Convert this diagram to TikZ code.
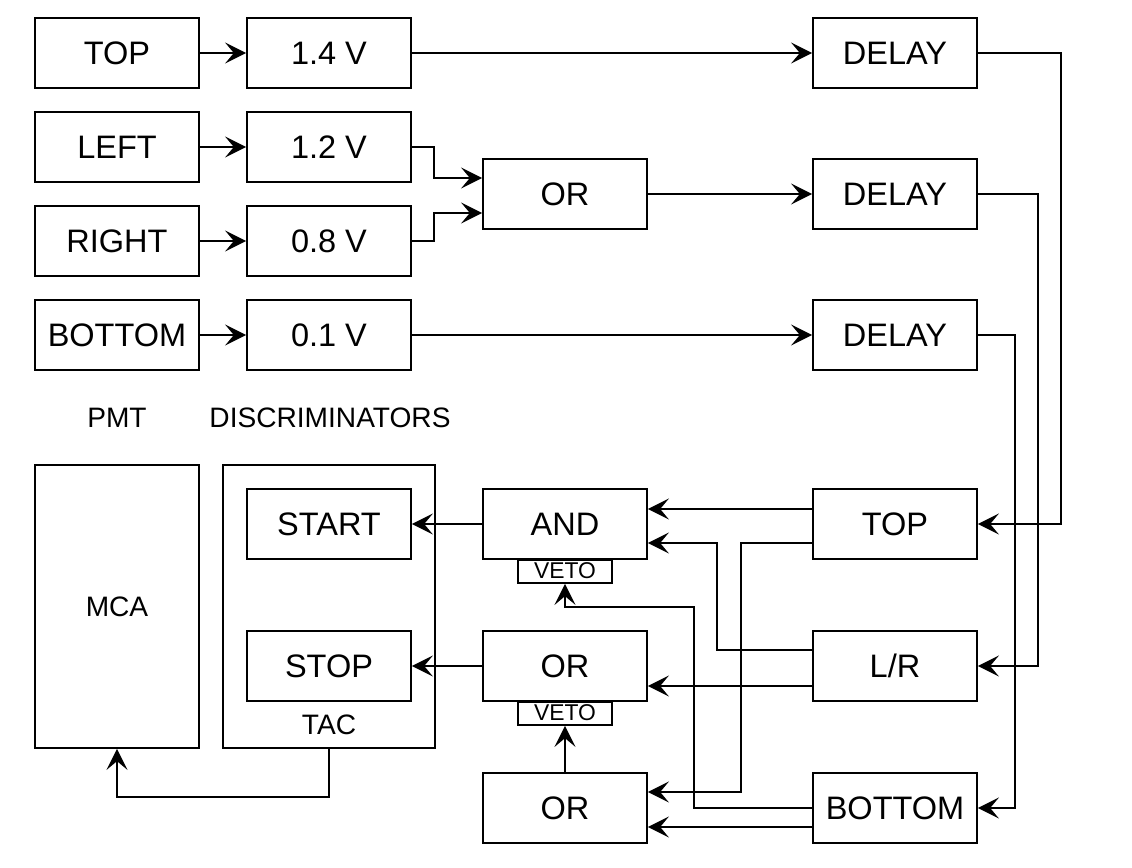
\documentclass[tikz,border=0pt]{standalone}
\usepackage{fontspec}
\setmainfont{Liberation Sans}
\usetikzlibrary{arrows.meta}

\begin{document}
\begin{tikzpicture}[x=0.02cm,y=-0.02cm,line width=1pt,
  >={Stealth[length=12pt,width=12pt,inset=5pt]},
  box/.style={draw,minimum width=3.28cm,minimum height=1.4cm,inner sep=0pt,font=\fontsize{18.5}{21}\selectfont},
  big/.style={draw,minimum height=5.66cm,inner sep=0pt},
  lbl/.style={inner sep=0pt,font=\fontsize{16}{18}\selectfont},
  veto/.style={draw,minimum width=1.88cm,minimum height=0.46cm,inner sep=0pt,font=\fontsize{13}{14}\selectfont}]
\useasboundingbox (0,0) rectangle (1132,868);
\node[box] (pTop) at (117,53) {TOP};\node[box] (pLeft) at (117,147) {LEFT};
\node[box] (pRight) at (117,241) {RIGHT};\node[box] (pBottom) at (117,335) {BOTTOM};
\node[box] (dTop) at (329,53) {1.4 V};\node[box] (dLeft) at (329,147) {1.2 V};
\node[box] (dRight) at (329,241) {0.8 V};\node[box] (dBottom) at (329,335) {0.1 V};
\node[box] (orLR) at (565,194) {OR};
\node[box] (delTop) at (895,53) {DELAY};\node[box] (delLR) at (895,194) {DELAY};\node[box] (delBottom) at (895,335) {DELAY};
\node[lbl] (pmt) at (117,418) {PMT};\node[lbl] (disc) at (330,418) {DISCRIMINATORS};
\node[big,minimum width=3.28cm,lbl] (mca) at (117,606.5) {MCA};
\node[big,minimum width=4.24cm] (tac) at (329,606.5) {};
\node[lbl] (tacname) at (329,725) {TAC};
\node[box] (start) at (329,524) {START};\node[box] (stop) at (329,666) {STOP};
\node[box] (gAnd) at (565,524) {AND};\node[veto] (vetoAnd) at (565,571.5) {\raisebox{1pt}{VETO}};
\node[box] (gOr) at (565,666) {OR};\node[veto] (vetoOr) at (565,713.5) {\raisebox{1pt}{VETO}};
\node[box] (gOrB) at (565,808) {OR};
\node[box] (cTop) at (895,524) {TOP};\node[box] (cLR) at (895,666) {L/R};\node[box] (cBottom) at (895,808) {BOTTOM};
% discriminators
\draw[->] (pTop)--(dTop);\draw[->] (pLeft)--(dLeft);\draw[->] (pRight)--(dRight);\draw[->] (pBottom)--(dBottom);
\draw[->] (dTop)--(delTop);\draw[->] (dBottom)--(delBottom);\draw[->] (orLR)--(delLR);
\draw[->] (dLeft.east) -- ++(22,0) |- ([yshift=3.2mm]orLR.west);
\draw[->] (dRight.east) -- ++(22,0) |- ([yshift=-3.8mm]orLR.west);
% delays down to the coincidence units
\draw[->] (delTop.east) -- ++(83,0) |- (cTop.east);
\draw[->] (delLR.east) -- ++(60,0) |- (cLR.east);
\draw[->] (delBottom.east) -- ++(37,0) |- (cBottom.east);
% logic
\draw[->] ([yshift=3mm]cTop.west) -- ([yshift=3mm]gAnd.east);
\draw[->] ([yshift=-3.8mm]cTop.west) -- ++(-71,0) |- ([yshift=3.2mm]gOrB.east);
\draw[->] ([yshift=3.2mm]cLR.west) -- ++(-95,0) |- ([yshift=-3.8mm]gAnd.east);
\draw[->] ([yshift=-4mm]cLR.west) -- ([yshift=-4mm]gOr.east);
\draw[->] (cBottom.west) -- ++(-118,0) -- ++(0,-201) -| (vetoAnd.south);
\draw[->] ([yshift=-3.8mm]cBottom.west) -- ([yshift=-3.8mm]gOrB.east);
\draw[->] (gOrB)--(vetoOr);
\draw[->] (gAnd)--(start);\draw[->] (gOr)--(stop);
\draw[->] (tac.south) -- ++(0,48) -| (mca.south);
\end{tikzpicture}
\end{document}
